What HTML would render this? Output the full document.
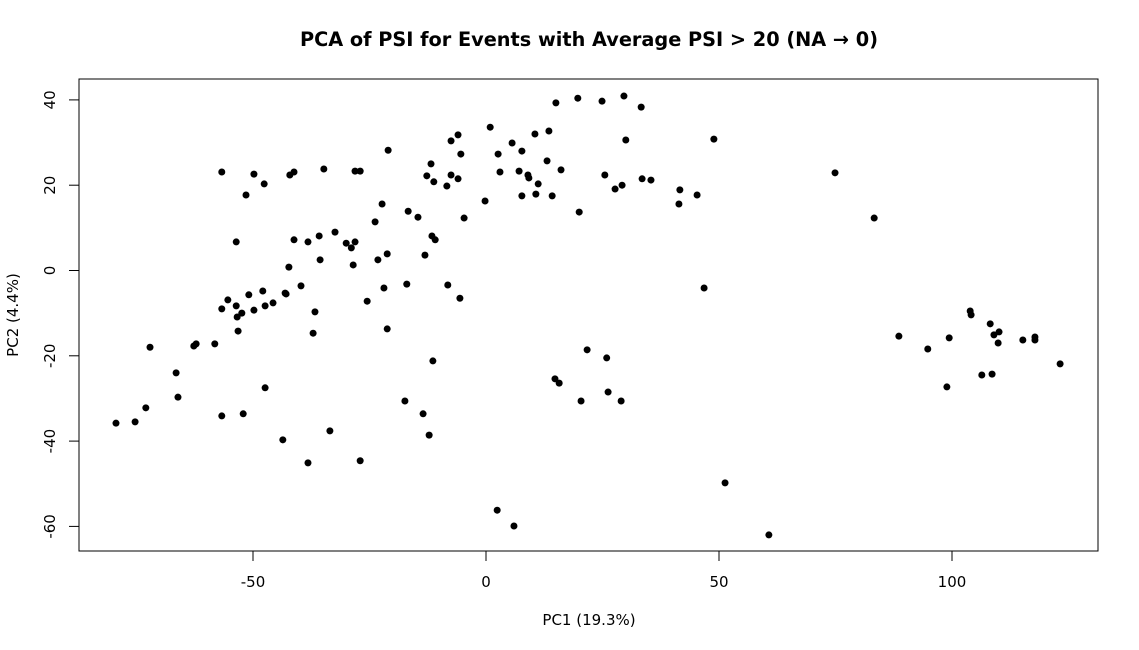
<!DOCTYPE html>
<html><head><meta charset="utf-8"><style>
html,body{margin:0;padding:0;background:#fff;}
svg{display:block;font-family:"DejaVu Sans","Liberation Sans",sans-serif;}
</style></head><body>
<svg id="chart" width="1139" height="650">
<text x="589" y="46" text-anchor="middle" font-size="19.3" font-weight="bold">PCA of PSI for Events with Average PSI &gt; 20 (NA → 0)</text>
<rect x="79" y="79" width="1019" height="472" fill="none" stroke="#000" stroke-width="1"/>
<g id="xaxis"></g>
<g id="yaxis"></g>
<g id="points"></g>
<text x="589" y="625" text-anchor="middle" font-size="15">PC1 (19.3%)</text>
<text x="18" y="315" text-anchor="middle" font-size="15" transform="rotate(-90 18 315)">PC2 (4.4%)</text>
</svg>
<script>
const pc1 = [-79.4,-75.3,-73.0,-72.1,-66.5,-66.1,-62.7,-62.2,-58.2,-56.7,-56.7,-56.7,-55.4,-53.6,-53.6,-53.4,-53.2,-52.4,-52.1,-51.5,-50.9,-49.8,-49.8,-47.9,-47.6,-47.4,-47.4,-45.7,-43.6,-43.1,-42.9,-42.3,-42.1,-41.2,-41.2,-39.7,-38.2,-38.2,-37.1,-36.7,-35.8,-35.6,-34.8,-33.5,-32.4,-30.0,-28.9,-28.5,-28.1,-28.1,-27.0,-27.0,-25.5,-23.8,-23.2,-22.3,-21.9,-21.2,-21.2,-21.0,-17.4,-17.0,-16.7,-14.6,-13.5,-13.1,-12.7,-12.2,-11.8,-11.6,-11.4,-11.2,-10.9,-8.4,-8.2,-7.5,-7.5,-6.0,-6.0,-5.6,-5.4,-4.7,-0.2,0.9,2.4,2.6,3.0,5.6,6.0,7.1,7.7,7.7,9.0,9.2,10.5,10.7,11.2,13.1,13.5,14.2,14.8,15.0,15.7,16.1,20.0,19.7,20.4,21.7,24.9,25.5,25.9,26.2,27.7,29.0,29.2,29.6,30.0,33.3,33.5,35.4,41.4,41.6,45.3,46.8,48.9,51.3,60.7,74.9,83.3,88.6,94.8,98.9,99.4,103.9,104.1,106.4,108.2,108.6,109.0,109.9,110.1,115.2,117.8,117.8,123.2];
const pc2 = [-35.8,-35.5,-32.2,-18.0,-24.0,-29.7,-17.7,-17.2,-17.2,23.1,-9.0,-34.1,-6.9,6.7,-8.3,-10.9,-14.2,-10.0,-33.6,17.7,-5.7,22.6,-9.3,-4.8,20.3,-8.3,-27.5,-7.6,-39.7,-5.3,-5.5,0.8,22.4,23.1,7.2,-3.6,-45.1,6.7,-14.7,-9.7,8.1,2.5,23.8,-37.6,9.0,6.4,5.3,1.3,6.7,23.3,23.3,-44.6,-7.2,11.4,2.5,15.6,-4.1,3.9,-13.7,28.2,-30.6,-3.2,13.9,12.5,-33.6,3.6,22.2,-38.6,25.0,8.1,-21.2,20.8,7.2,19.8,-3.4,30.4,22.4,31.8,21.5,-6.5,27.3,12.3,16.3,33.6,-56.2,27.3,23.1,29.9,-59.9,23.3,28.0,17.5,22.4,21.7,32.0,17.9,20.3,25.7,32.7,17.5,-25.4,39.3,-26.4,23.6,13.7,40.4,-30.6,-18.6,39.7,22.4,-20.5,-28.5,19.1,-30.6,20.0,40.9,30.6,38.3,21.5,21.2,15.6,18.9,17.7,-4.1,30.8,-49.8,-62.0,22.9,12.3,-15.4,-18.4,-27.3,-15.8,-9.5,-10.4,-24.5,-12.5,-24.3,-15.1,-17.0,-14.4,-16.3,-15.6,-16.3,-21.9];
const xTicks = [-50, 0, 50, 100];
const yTicks = [-60, -40, -20, 0, 20, 40];

const NS = "http://www.w3.org/2000/svg";
const sx = v => 486 + v * 4.66;
const sy = v => 270.5 - v * 4.265;
function mk(tag, attrs, parent) {
  const e = document.createElementNS(NS, tag);
  for (const k in attrs) e.setAttribute(k, attrs[k]);
  parent.appendChild(e);
  return e;
}
const xg = document.getElementById('xaxis');
xTicks.forEach(t => {
  const l = mk('line', {x1: sx(t), x2: sx(t), y1: 551, y2: 561, stroke: '#000'}, xg);
  
  
  const tx = mk('text', {x: sx(t), y: 587, 'text-anchor': 'middle', 'font-size': 15}, xg);
  tx.textContent = t;
  
  
});
const yg = document.getElementById('yaxis');
yTicks.forEach(t => {
  const l = mk('line', {x1: 69, x2: 79, y1: sy(t), y2: sy(t), stroke: '#000'}, yg);
  
  
  const tx = mk('text', {x: 55, y: sy(t), 'text-anchor': 'middle', 'font-size': 15, transform: `rotate(-90 55 ${sy(t)})`}, yg);
  tx.textContent = t;
  
  
});
const pg = document.getElementById('points');
pc1.forEach((v, i) => {
  const c = mk('circle', {cx: sx(v), cy: sy(pc2[i]), r: 3.5, fill: '#000'}, pg);
  
  
});
</script>
</body></html>
